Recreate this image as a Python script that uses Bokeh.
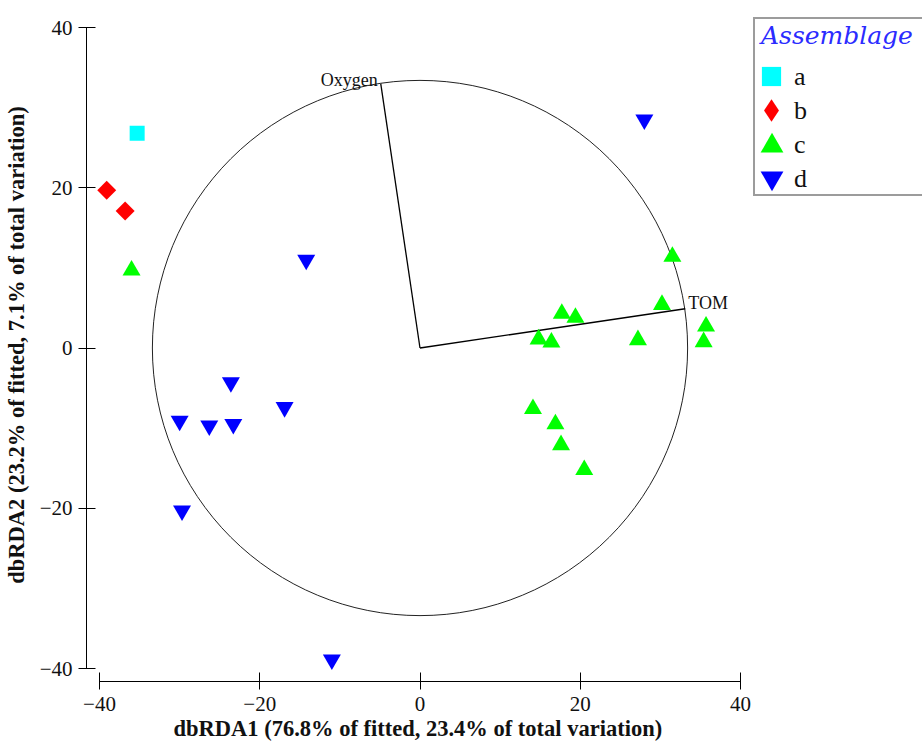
import math
from bokeh.plotting import figure
from bokeh.models import Range1d, FixedTicker, Legend, LegendItem, Title
from bokeh.core.properties import value
from bokeh.embed import file_html
from bokeh.resources import INLINE

# ---- data ----
a_x = [-35.3]
a_y = [26.8]
b_x = [-39.1, -36.8]
b_y = [19.7, 17.1]
c_x = [31.5, 30.2, 35.7, 35.4, 27.2, 17.7, 19.4, 14.8, 16.4, 14.1, 16.9, 17.6, 20.5, -36.0]
c_y = [11.4, 5.4, 2.7, 0.75, 1.0, 4.3, 3.8, 1.1, 0.7, -7.6, -9.5, -12.1, -15.2, 9.7]
d_x = [-14.2, -23.6, -16.9, -30.0, -26.3, -23.3, -29.7, -11.0, 28.0]
d_y = [11.0, -4.3, -7.4, -9.1, -9.7, -9.5, -20.3, -38.9, 28.5]
groups = ["a", "b", "c", "d"]
vec_names = ["Oxygen", "TOM"]
vec_x = [-4.9, 33.1]
vec_y = [33.0, 4.9]
circle_r = 33.4
ticks = [-40, -20, 0, 20, 40]
x_title = "dbRDA1 (76.8% of fitted, 23.4% of total variation)"
y_title = "dbRDA2 (23.2% of fitted, 7.1% of total variation)"
legend_title = "Assemblage"

SERIF = "Liberation Serif"

# ---- layout (pixels) ----
S = 8.0125           # px per data unit
TOP = 8
FRAME_W = 836
FRAME_H = 673
FRAME_LEFT = 86
FRAME_BOTTOM = TOP + FRAME_H
x0 = -40 - 13 / S
y1 = 40 + 19 / S
p = figure(frame_width=FRAME_W, frame_height=FRAME_H,
           x_range=Range1d(x0, x0 + FRAME_W / S),
           y_range=Range1d(y1 - FRAME_H / S, y1),
           output_backend="svg", toolbar_location=None,
           min_border_left=78, min_border_right=0,
           min_border_top=TOP, min_border_bottom=61)
p.outline_line_color = None
p.xgrid.visible = False
p.ygrid.visible = False
p.background_fill_color = "white"
p.border_fill_color = "white"

for ax in (p.xaxis[0], p.yaxis[0]):
    ax.bounds = (-40, 40)
    ax.ticker = FixedTicker(ticks=ticks)
    ax.minor_tick_line_color = None
    ax.major_tick_in = 9
    ax.major_tick_out = 8
    ax.axis_line_color = "black"
    ax.major_tick_line_color = "black"
    ax.major_label_text_font = SERIF
    ax.major_label_text_font_size = "21px"
    ax.major_label_text_color = "#111111"
    ax.axis_label_text_font = SERIF
    ax.axis_label_text_font_style = "bold"
    ax.axis_label_text_font_size = "22.5px"
    ax.axis_label_text_color = "#111111"

p.yaxis[0].axis_label = y_title
p.xaxis[0].major_label_standoff = 7
p.yaxis[0].major_label_standoff = 6
p.yaxis[0].axis_label_standoff = 8

xt = Title(text=x_title, align="left", offset=87, standoff=0,
           text_font=SERIF, text_font_style="bold", text_font_size="22.5px",
           text_color="#111111")
p.add_layout(xt, "below")

# circle and vectors
p.ellipse(x=[0], y=[0], width=2 * circle_r, height=2 * circle_r,
          fill_color=None, line_color="#222222", line_width=1)
p.segment(x0=[0] * len(vec_x), y0=[0] * len(vec_y), x1=vec_x, y1=vec_y,
          line_color="black", line_width=1.3)
p.text(x=[vec_x[0]], y=[vec_y[0]], text=[vec_names[0]], text_align="right",
       text_baseline="alphabetic", x_offset=-3, y_offset=-4,
       text_font=value(SERIF), text_font_size="18px", text_color="#111111")
p.text(x=[vec_x[1]], y=[vec_y[1]], text=[vec_names[1]], text_align="left",
       text_baseline="alphabetic", x_offset=3, y_offset=-6,
       text_font=value(SERIF), text_font_size="18px", text_color="#111111")

# legend-only renderer for the diamond symbol (legend glyphs ignore angle);
# drawn tiny underneath the group b markers
rb_leg = p.scatter(b_x, b_y, marker="diamond", size=1, fill_color="#ff0000", line_color=None)

# points
ra = p.scatter(a_x, a_y, marker="square", size=15, fill_color="#00ffff", line_color=None)
rb = p.scatter(b_x, b_y, marker="square", angle=math.pi / 4, size=13.4,
               fill_color="#ff0000", line_color=None)
rc = p.scatter(c_x, c_y, marker="triangle", size=18, fill_color="#00ff00", line_color=None)
rd = p.scatter(d_x, d_y, marker="inverted_triangle", size=18, fill_color="#0000ff", line_color=None)

# invisible renderers for the boxed legend (labels)
dummies = [p.scatter([], [], marker="square", size=1, fill_alpha=0, line_alpha=0) for _ in groups]

LEG_LEFT, LEG_BOTTOM = 753, 195.5

# box + labels (blank title only reserves the room for the visible title)
legA = Legend(items=[LegendItem(label=g, renderers=[r]) for g, r in zip(groups, dummies)],
              title=" ",
              location=(LEG_LEFT - FRAME_LEFT, FRAME_BOTTOM - LEG_BOTTOM))
legA.padding = 0
legA.margin = 0
legA.glyph_width = 20
legA.glyph_height = 20
legA.label_standoff = 19
legA.label_height = 29
legA.label_width = 135
legA.spacing = 4
legA.title_standoff = 9
legA.title_text_font = SERIF
legA.title_text_font_size = "30px"
legA.title_text_alpha = 0
legA.label_text_font = SERIF
legA.label_text_font_size = "26px"
legA.label_text_color = "#111111"
legA.border_line_color = "#3a3a3a"
legA.border_line_width = 2
legA.background_fill_color = "white"
legA.background_fill_alpha = 1
p.add_layout(legA)

# visible title, placed on its own
legT = Legend(items=[LegendItem(label=" ", renderers=[dummies[0]])],
              title=legend_title,
              location=(761 - FRAME_LEFT, FRAME_BOTTOM - 51))
legT.padding = 0
legT.margin = 0
legT.glyph_width = 1
legT.glyph_height = 1
legT.label_height = 1
legT.label_standoff = 0
legT.label_text_font_size = "2px"
legT.title_standoff = 0
legT.title_text_font = "DejaVu Serif"
legT.title_text_font_style = "italic"
legT.title_text_font_size = "25px"
legT.title_text_color = "#2b2bff"
legT.border_line_color = None
legT.background_fill_alpha = 0
p.add_layout(legT)

# big legend symbols, one small legend each, drawn on top
sym_renderers = [ra, rb_leg, rc, rd]
sym_box = [48, 56, 57, 57]          # glyph box (symbol size = 0.4 * box)
sym_cy = [76, 110, 145, 177]        # symbol centre (page px)
SYM_CX = 771
for r, g, cy in zip(sym_renderers, sym_box, sym_cy):
    lg = Legend(items=[LegendItem(label=" ", renderers=[r])],
                location=(SYM_CX - g / 2 - FRAME_LEFT, FRAME_BOTTOM - cy - g / 2))
    lg.padding = 0
    lg.margin = 0
    lg.glyph_width = g
    lg.glyph_height = g
    lg.label_standoff = 0
    lg.label_height = 1
    lg.label_text_font_size = "2px"
    lg.border_line_color = None
    lg.background_fill_alpha = 0
    p.add_layout(lg)

open("out.html", "w").write(file_html(p, INLINE))
